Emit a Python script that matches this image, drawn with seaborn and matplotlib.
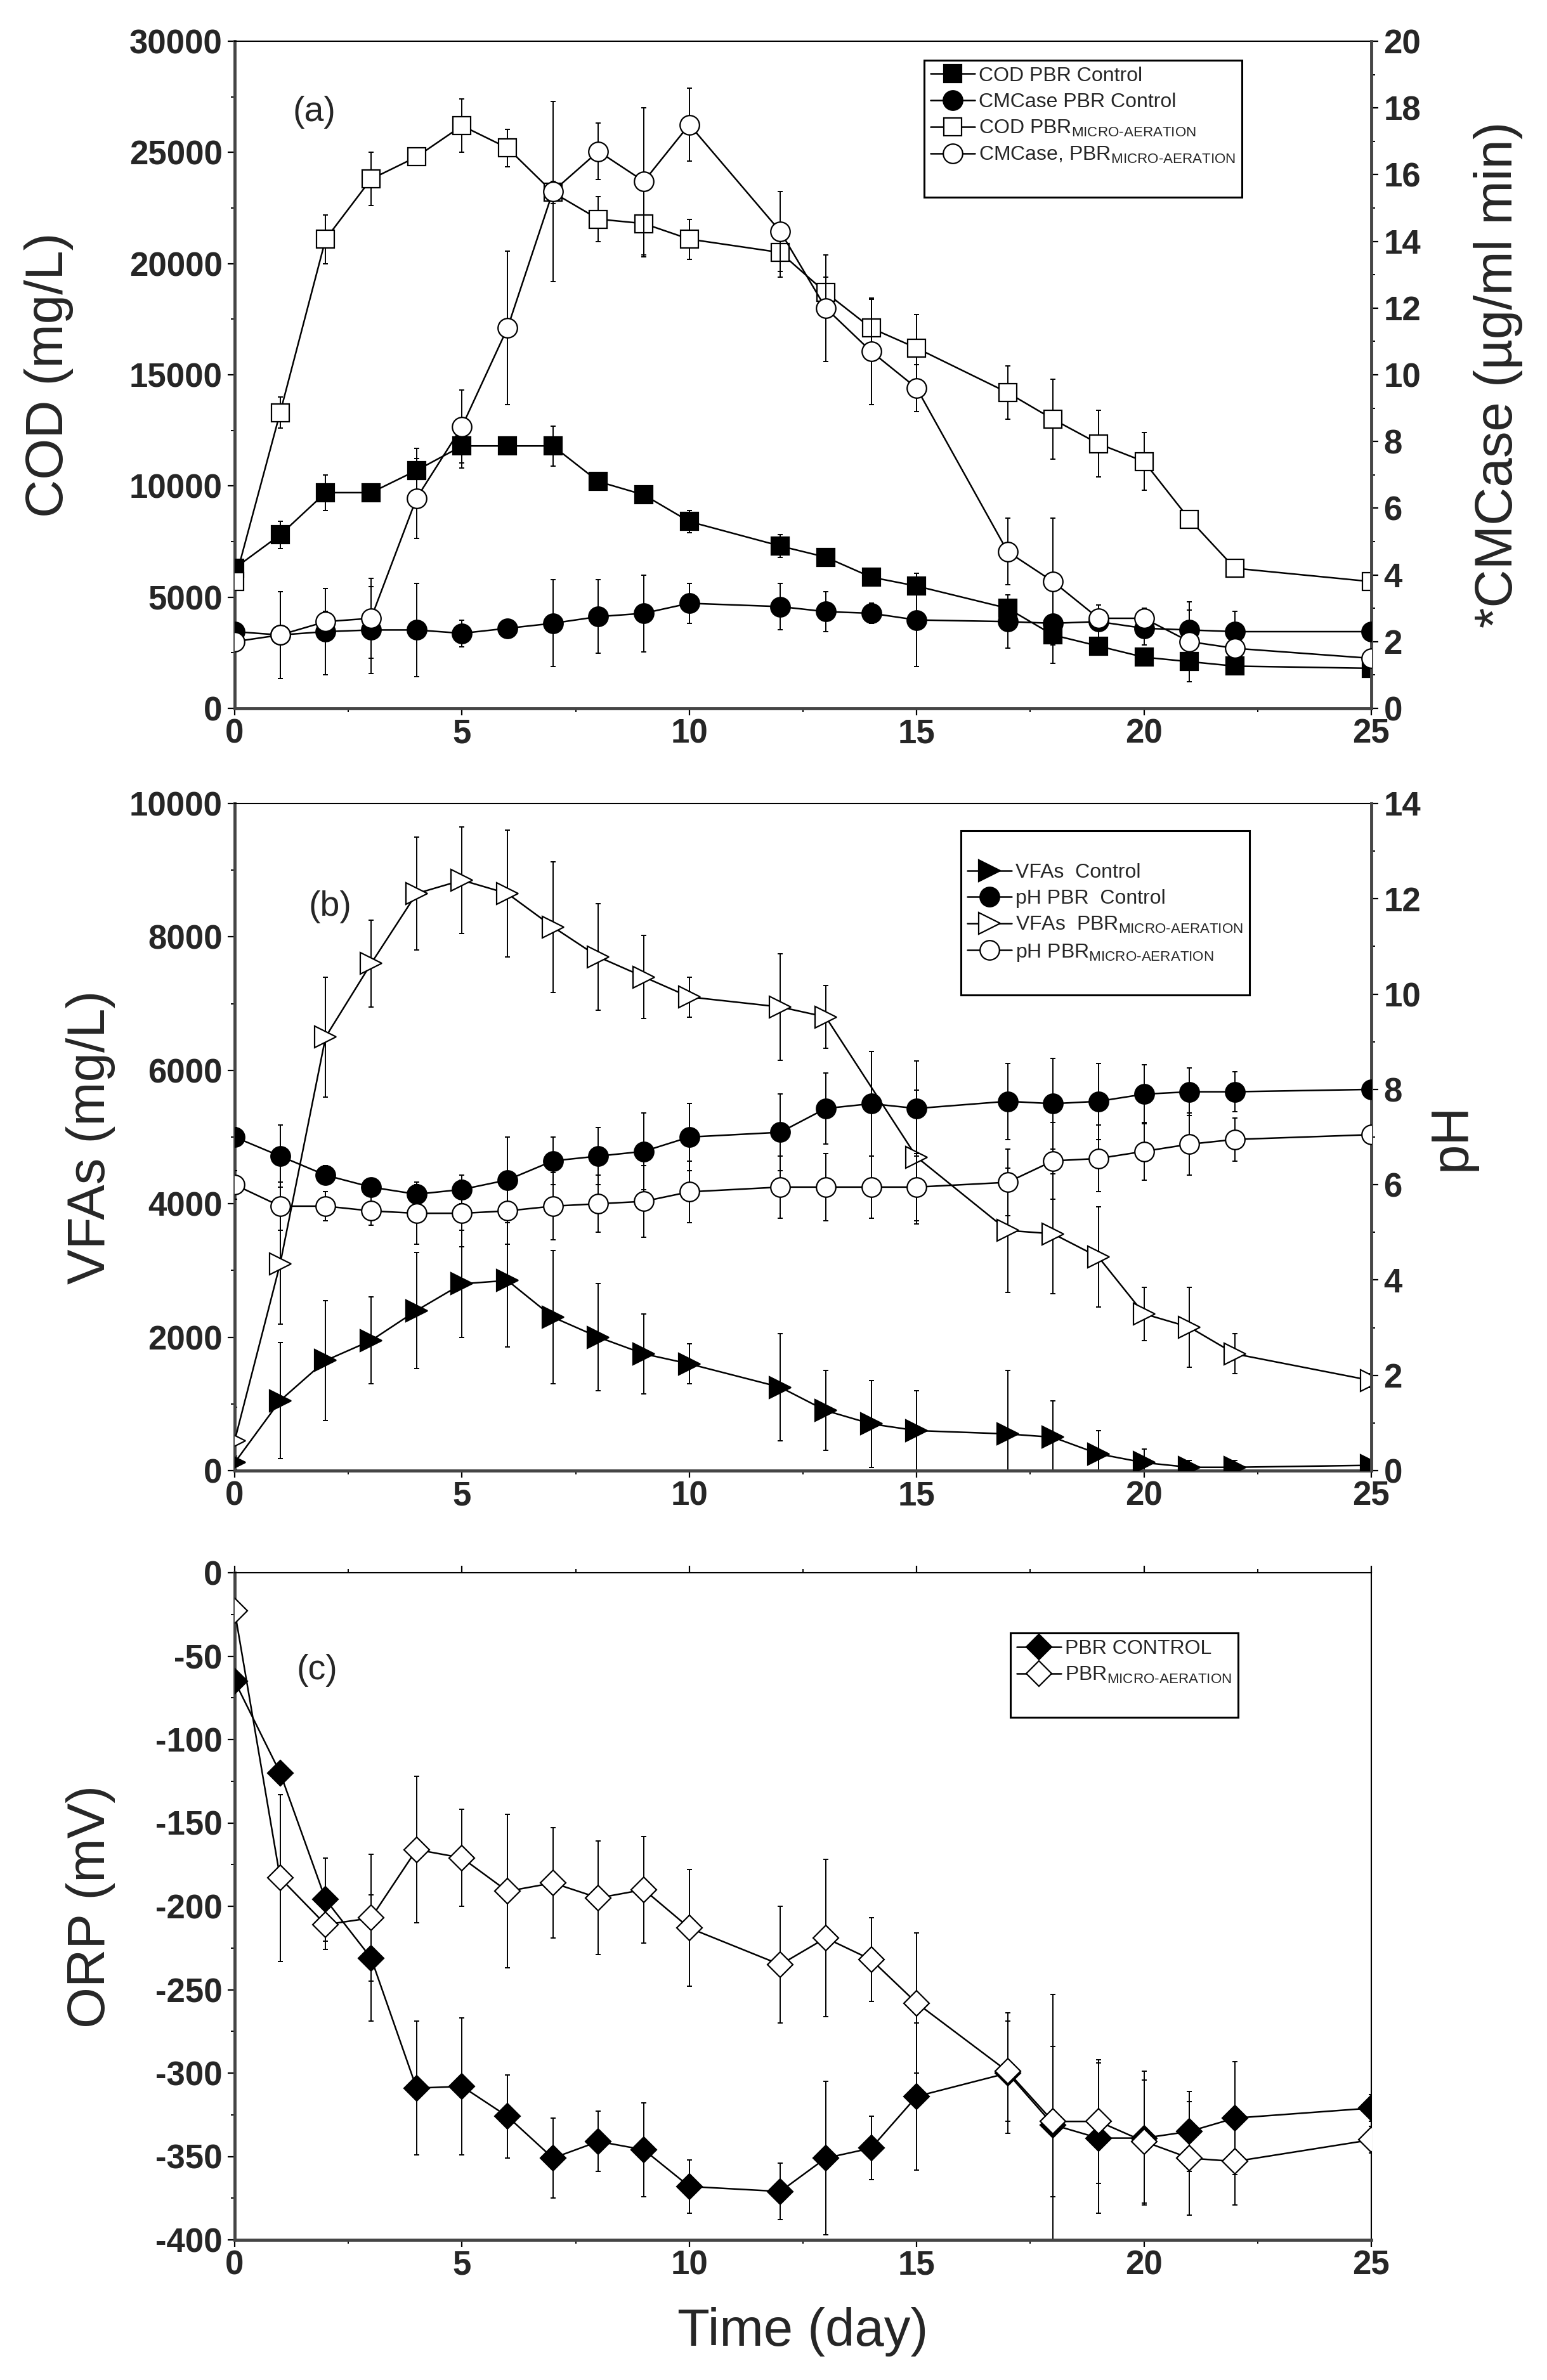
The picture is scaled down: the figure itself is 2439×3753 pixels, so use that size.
import matplotlib
matplotlib.use('Agg')
import matplotlib.pyplot as plt
import seaborn as sns
from matplotlib.lines import Line2D
from matplotlib.ticker import MultipleLocator

sns.set_style('ticks')
plt.rcParams['font.family'] = ['Liberation Sans', 'DejaVu Sans']
plt.rcParams['mathtext.fontset'] = 'custom'
plt.rcParams['mathtext.rm'] = 'Liberation Sans'
plt.rcParams['mathtext.it'] = 'Liberation Sans:italic'
plt.rcParams['mathtext.bf'] = 'Liberation Sans:bold'

# ---- data ----
days = [0, 1, 2, 3, 4, 5, 6, 7, 8, 9, 10, 12, 13, 14, 15, 17, 18, 19, 20, 21, 22, 25]

# (a) COD left axis, CMCase right axis
cod_control = [6300, 7800, 9700, 9700, 10700, 11800, 11800, 11800, 10200, 9600, 8400,
               7300, 6800, 5900, 5500, 4500, 3300, 2800, 2300, 2100, 1900, 1800]
cod_control_err = [300, 600, 800, 300, 1000, 1000, 300, 900, 400, 300, 500,
                   500, 300, 300, 300, 400, 300, 300, 300, 300, 200, 200]
cmc_control = [2.3, 2.2, 2.3, 2.35, 2.35, 2.25, 2.4, 2.55, 2.75, 2.85, 3.15,
               3.05, 2.9, 2.85, 2.65, 2.6, 2.55, 2.6, 2.4, 2.35, 2.3, 2.3]
cmc_control_err = [0.2, 1.3, 1.3, 1.3, 1.4, 0.4, 0.2, 1.3, 1.1, 1.15, 0.6,
                   0.7, 0.6, 0.3, 1.4, 0.8, 1.2, 0.5, 0.5, 0.6, 0.6, 0.2]
cod_micro = [5700, 13300, 21100, 23800, 24800, 26200, 25200, 23200, 22000, 21800, 21100,
             20500, 18700, 17100, 16200, 14200, 13000, 11900, 11100, 8500, 6300, 5700]
cod_micro_err = [300, 700, 1100, 1200, 300, 1200, 850, 500, 1000, 1500, 900,
                 1100, 700, 1300, 1500, 1200, 1800, 1500, 1300, 200, 300, 200]
cmc_micro = [2.0, 2.2, 2.6, 2.7, 6.3, 8.45, 11.4, 15.5, 16.7, 15.8, 17.5,
             14.3, 12.0, 10.7, 9.6, 4.7, 3.8, 2.7, 2.7, 2.0, 1.8, 1.5]
cmc_micro_err = [0.2, 1.3, 0.3, 1.2, 1.2, 1.1, 2.3, 2.7, 0.85, 2.2, 1.1,
                 1.2, 1.6, 1.6, 0.7, 1.0, 1.9, 0.2, 0.3, 1.2, 0.3, 0.2]

# (b) VFAs left axis, pH right axis
vfa_control = [120, 1050, 1650, 1950, 2400, 2800, 2850, 2300, 2000, 1750, 1600,
               1250, 900, 700, 600, 550, 500, 250, 120, 50, 50, 80]
vfa_control_err = [100, 870, 900, 650, 870, 800, 1000, 1000, 800, 600, 300,
                   800, 600, 650, 600, 950, 550, 350, 200, 100, 100, 50]
ph_control = [7.0, 6.6, 6.2, 5.95, 5.8, 5.9, 6.1, 6.5, 6.6, 6.7, 7.0,
              7.1, 7.6, 7.7, 7.6, 7.75, 7.7, 7.75, 7.9, 7.95, 7.95, 8.0]
ph_control_err = [0.2, 0.65, 0.2, 0.1, 0.2, 0.3, 0.9, 0.5, 0.6, 0.8, 0.7,
                  0.8, 0.75, 1.1, 1.0, 0.8, 0.95, 0.8, 0.62, 0.5, 0.42, 0.1]
ph_micro = [6.0, 5.55, 5.55, 5.45, 5.4, 5.4, 5.45, 5.55, 5.6, 5.65, 5.85,
            5.95, 5.95, 5.95, 5.95, 6.05, 6.5, 6.55, 6.7, 6.85, 6.95, 7.05]
ph_micro_err = [0.3, 0.5, 0.3, 0.3, 0.65, 0.7, 0.7, 0.7, 0.6, 0.75, 0.65,
                0.65, 0.7, 0.65, 0.7, 0.7, 0.8, 0.7, 0.6, 0.65, 0.45, 0.1]
days_vfa_micro = [0, 1, 2, 3, 4, 5, 6, 7, 8, 9, 10, 12, 13, 15, 17, 18, 19, 20, 21, 22, 25]
vfa_micro = [450, 3100, 6500, 7600, 8650, 8850, 8650, 8150, 7700, 7400, 7100,
             6950, 6800, 4700, 3600, 3550, 3200, 2350, 2150, 1750, 1350]
vfa_micro_err = [500, 900, 900, 650, 850, 800, 950, 980, 800, 620, 300,
                 800, 470, 1000, 930, 900, 750, 400, 600, 300, 100]

# (c) ORP
orp_control = [-65, -120, -196, -231, -309, -308, -326, -351, -341, -346, -368,
               -371, -351, -345, -314, -300, -331, -339, -339, -335, -327, -321]
orp_control_err = [5, 5, 25, 38, 40, 41, 25, 24, 18, 28, 16,
                   17, 46, 19, 44, 36, 78, 45, 40, 24, 34, 8]
orp_micro = [-23, -183, -211, -207, -166, -171, -191, -186, -195, -190, -213,
             -235, -219, -232, -258, -299, -329, -329, -341, -351, -353, -340]
orp_micro_err = [5, 50, 15, 38, 44, 29, 46, 33, 34, 32, 35,
                 35, 47, 25, 42, 30, 45, 37, 37, 34, 26, 8]

x_ticks = [0, 5, 10, 15, 20, 25]
cod_ticks = [0, 5000, 10000, 15000, 20000, 25000, 30000]
cmc_ticks = [0, 2, 4, 6, 8, 10, 12, 14, 16, 18, 20]
vfa_ticks = [0, 2000, 4000, 6000, 8000, 10000]
ph_ticks = [0, 2, 4, 6, 8, 10, 12, 14]
orp_ticks = [0, -50, -100, -150, -200, -250, -300, -350, -400]

SUB = r'$_{\text{MICRO-AERATION}}$'

TICK_FS = 38
LABEL_FS = 60
LEG_FS = 23
SPINE_C = '#454545'


def draw_series(ax, x, y, err, marker, face, label, size):
    ax.errorbar(x, y, yerr=err, fmt='none', ecolor='black', elinewidth=1.4,
                capsize=3, capthick=1.4, zorder=2)
    sns.lineplot(x=x, y=y, ax=ax, color='black', linewidth=1.8, marker=marker,
                 markersize=size, markerfacecolor=face, markeredgecolor='black',
                 markeredgewidth=1.6, label=label, legend=False, errorbar=None,
                 zorder=3)


def style_left(ax, yticks, ylim, minor, right_spine=False):
    ax.set_xlim(0, 25)
    ax.set_ylim(*ylim)
    ax.set_xticks(x_ticks)
    ax.set_xticklabels([str(t) for t in x_ticks], fontsize=TICK_FS, fontweight='bold')
    ax.set_yticks(yticks)
    ax.set_yticklabels([str(t) for t in yticks], fontsize=TICK_FS, fontweight='bold')
    ax.xaxis.set_minor_locator(MultipleLocator(2.5))
    ax.yaxis.set_minor_locator(MultipleLocator(minor))
    ax.tick_params(which='major', direction='out', length=8, width=1.6, color='black')
    ax.tick_params(which='minor', direction='out', length=4.5, width=1.4, color='black')
    ax.tick_params(axis='x', which='major', pad=3)
    ax.tick_params(axis='y', which='major', pad=6)
    for s in ['left', 'bottom']:
        ax.spines[s].set_linewidth(3.5)
        ax.spines[s].set_color(SPINE_C)
    ax.spines['top'].set_linewidth(1.5)
    ax.spines['top'].set_color('black')
    ax.spines['right'].set_visible(right_spine)
    ax.spines['right'].set_linewidth(1.5)
    ax.spines['right'].set_color('black')
    ax.set_xlabel('')


def style_right(tw, yticks, ylim, minor):
    tw.set_ylim(*ylim)
    tw.set_yticks(yticks)
    tw.set_yticklabels([str(t) for t in yticks], fontsize=TICK_FS, fontweight='bold')
    tw.yaxis.set_minor_locator(MultipleLocator(minor))
    tw.tick_params(which='major', direction='out', length=8, width=1.6, pad=6, color='black')
    tw.tick_params(which='minor', direction='out', length=4.5, width=1.4, color='black')
    for s in ['left', 'top', 'bottom']:
        tw.spines[s].set_visible(False)
    tw.spines['right'].set_linewidth(3.5)
    tw.spines['right'].set_color(SPINE_C)


def make_legend(ax, handles, labels, anchor):
    leg = ax.legend(handles, labels, loc='upper left', bbox_to_anchor=anchor,
                    borderaxespad=0, fontsize=LEG_FS, frameon=True, fancybox=False,
                    framealpha=1, edgecolor='black', handlelength=2.2,
                    handletextpad=0.2, labelspacing=0.35, borderpad=0.3)
    leg.get_frame().set_linewidth(2.2)
    leg.set_zorder(10)
    return leg


def blank():
    return Line2D([], [], linestyle='none', marker='none')


fig = plt.figure(figsize=(24.39, 37.53), dpi=100)
L, W, H = 370 / 2439, 1792 / 2439, 1052 / 3753

# ---------------- (a) ----------------
ax_a = fig.add_axes([L, 1 - 1117 / 3753, W, H])
tw_a = ax_a.twinx()
draw_series(ax_a, days, cod_control, cod_control_err, 's', 'black', 'COD PBR Control', 20)
draw_series(ax_a, days, cod_micro, cod_micro_err, 's', 'white', 'COD PBR' + SUB, 20)
draw_series(tw_a, days, cmc_control, cmc_control_err, 'o', 'black', 'CMCase PBR Control', 22)
draw_series(tw_a, days, cmc_micro, cmc_micro_err, 'o', 'white', 'CMCase, PBR' + SUB, 22)
style_left(ax_a, cod_ticks, (0, 30000), 2500)
style_right(tw_a, cmc_ticks, (0, 20), 1)
ax_a.set_ylabel('COD (mg/L)', fontsize=LABEL_FS)
ax_a.yaxis.set_label_coords(-0.142, 0.5)
tw_a.set_ylabel('*CMCase (µg/ml min)', fontsize=LABEL_FS)
tw_a.yaxis.set_label_coords(1.0898, 0.5)
ax_a.text(0.070, 0.894, '(a)', transform=ax_a.transAxes, fontsize=40,
          ha='center', va='center')
ha1, la1 = ax_a.get_legend_handles_labels()
ha2, la2 = tw_a.get_legend_handles_labels()
hmap = dict(zip(la1 + la2, ha1 + ha2))
order = ['COD PBR Control', 'CMCase PBR Control', 'COD PBR' + SUB, 'CMCase, PBR' + SUB]
make_legend(tw_a, [hmap[k] for k in order] + [blank()], order + [' '], (0.6066, 0.9715))

# ---------------- (b) ----------------
ax_b = fig.add_axes([L, 1 - 2319 / 3753, W, H])
tw_b = ax_b.twinx()
draw_series(ax_b, days, vfa_control, vfa_control_err, '>', 'black', 'VFAs  Control', 24)
draw_series(ax_b, days_vfa_micro, vfa_micro, vfa_micro_err, '>', 'white', 'VFAs  PBR' + SUB, 24)
draw_series(tw_b, days, ph_control, ph_control_err, 'o', 'black', 'pH PBR  Control', 22)
draw_series(tw_b, days, ph_micro, ph_micro_err, 'o', 'white', 'pH PBR' + SUB, 22)
style_left(ax_b, vfa_ticks, (0, 10000), 1000)
style_right(tw_b, ph_ticks, (0, 14), 1)
ax_b.set_ylabel('VFAs (mg/L)', fontsize=LABEL_FS)
ax_b.yaxis.set_label_coords(-0.105, 0.5)
tw_b.set_ylabel('pH', fontsize=LABEL_FS)
tw_b.yaxis.set_label_coords(1.049, 0.5)
ax_b.text(0.084, 0.845, '(b)', transform=ax_b.transAxes, fontsize=40,
          ha='center', va='center')
hb1, lb1 = ax_b.get_legend_handles_labels()
hb2, lb2 = tw_b.get_legend_handles_labels()
hmap = dict(zip(lb1 + lb2, hb1 + hb2))
order = ['VFAs  Control', 'pH PBR  Control', 'VFAs  PBR' + SUB, 'pH PBR' + SUB]
make_legend(tw_b, [blank()] + [hmap[k] for k in order] + [blank()],
            [' '] + order + [' '], (0.639, 0.959))

# ---------------- (c) ----------------
ax_c = fig.add_axes([L, 1 - 3532 / 3753, W, H])
draw_series(ax_c, days, orp_control, orp_control_err, 'D', 'black', 'PBR CONTROL', 20)
draw_series(ax_c, days, orp_micro, orp_micro_err, 'D', 'white', 'PBR' + SUB, 20)
style_left(ax_c, orp_ticks, (-400, 0), 25, right_spine=True)
ax_c.tick_params(axis='x', which='both', top=True)
ax_c.set_ylabel('ORP (mV)', fontsize=LABEL_FS)
ax_c.yaxis.set_label_coords(-0.105, 0.5)
ax_c.set_xlabel('Time (day)', fontsize=LABEL_FS)
ax_c.xaxis.set_label_coords(0.5, -0.101)
ax_c.text(0.0725, 0.854, '(c)', transform=ax_c.transAxes, fontsize=40,
          ha='center', va='center')
hc, lc = ax_c.get_legend_handles_labels()
make_legend(ax_c, hc + [blank()], lc + [' '], (0.6825, 0.9095))

fig.savefig('out.png', dpi=100)
